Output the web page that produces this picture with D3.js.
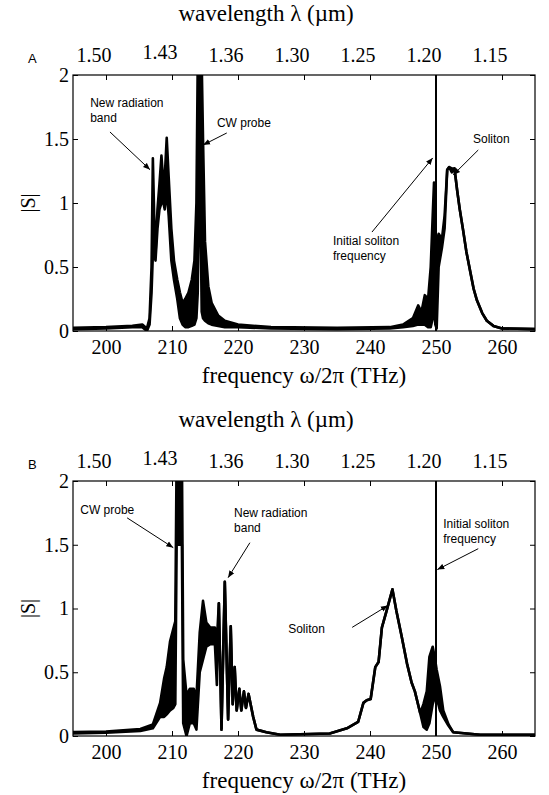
<!DOCTYPE html>
<html>
<head>
<meta charset="utf-8">
<script src="https://cdn.jsdelivr.net/npm/d3@7"></script>
<style>
  body { margin: 0; background: #fff; }
  svg { display: block; }
</style>
</head>
<body>
<div id="chart"></div>
<script>
// ticks shared by both panels
const freqTicks = [200, 210, 220, 230, 240, 250, 260];
const waveLabels = ["1.50", "1.43", "1.36", "1.30", "1.25", "1.20", "1.15"];
const sTicks = [0, 0.5, 1, 1.5, 2];
const initialFreq = 250;

// panel A: spectrum envelope (lower / upper edge of the fast oscillations)
const freqA = [195, 200, 204, 205.5, 206.2, 206.6, 206.9, 207.1, 207.3, 207.5, 207.8, 208.1, 208.4, 208.7, 208.9,
               209.2, 209.5, 209.9, 210.3, 210.8, 211.2, 211.6, 212.0, 212.5, 213.0, 213.4, 213.7, 213.9, 214.2,
               214.5, 214.7, 215.0, 215.5, 216, 217, 218, 220, 225, 235, 243, 245, 246.5, 247.3, 247.8, 248.3,
               248.8, 249.2, 249.5, 249.7, 249.9, 250.1, 250.4, 250.9, 251.3, 251.7, 252.0, 252.4, 252.8, 253.2,
               253.6, 254.1, 254.6, 255.2, 255.7, 256.2, 257, 257.7, 258.7, 260, 265];
const loA = [0.015, 0.02, 0.03, 0.03, 0.0, 0.05, 0.3, 0.6, 0.6, 0.55, 0.8, 0.95, 1.0, 1.0, 0.95,
             1.1, 0.9, 0.55, 0.4, 0.25, 0.1, 0.05, 0.03, 0.03, 0.04, 0.05, 0.1, 0.3, 1.5,
             0.15, 0.1, 0.08, 0.06, 0.05, 0.04, 0.03, 0.03, 0.02, 0.015, 0.02, 0.03, 0.04, 0.05, 0.05, 0.05,
             0.03, 0.03, 0.1, 0.2, 0.05, 0.02, 0.5, 0.65, 0.8, 1.26, 1.28, 1.24, 1.27, 1.1,
             0.95, 0.79, 0.62, 0.46, 0.33, 0.24, 0.14, 0.08, 0.04, 0.02, 0.015];
const hiA = [0.025, 0.03, 0.04, 0.05, 0.02, 0.1, 0.5, 1.35, 0.9, 0.6, 0.95, 1.15, 1.37, 1.15, 1.2,
             1.51, 1.2, 0.8, 0.55, 0.4, 0.3, 0.22, 0.25, 0.3, 0.4, 0.55, 1.0, 2.1, 2.2,
             2.1, 1.5, 0.7, 0.35, 0.22, 0.12, 0.08, 0.05, 0.03, 0.025, 0.03, 0.05, 0.1, 0.2, 0.15, 0.28,
             0.25, 0.5, 0.9, 1.16, 0.6, 0.7, 0.76, 0.72, 0.9, 1.26, 1.28, 1.27, 1.27, 1.1,
             0.95, 0.79, 0.62, 0.46, 0.33, 0.24, 0.14, 0.08, 0.04, 0.02, 0.015];

// panel B
const freqB = [195, 200, 205.2, 207.1, 208.2, 208.8, 209.2, 209.7, 210.2, 210.5, 210.7, 211.5, 211.7, 212.2,
               212.7, 213.3, 213.7, 214.2, 214.7, 215.2, 215.8, 216.5, 216.8, 217.1, 217.5, 218.0, 218.5,
               218.9, 219.2, 219.5, 219.8, 220.2, 220.5, 220.9, 221.2, 221.6, 222.3, 222.8, 224.3, 226.4,
               233.9, 236.5, 238.2, 239.0, 239.5, 240.1, 240.8, 241.3, 241.8, 242.5, 243.4, 244.0, 244.8,
               245.6, 246.3, 246.8, 247.6, 248.1, 248.6, 249.0, 249.5, 249.8, 250.1, 250.6, 251.1, 251.9,
               252.6, 256.7, 265];
const loB = [0.02, 0.025, 0.04, 0.06, 0.15, 0.15, 0.17, 0.2, 0.22, 0.25, 1.5, 1.5, 0.1, 0.0,
             0.1, 0.1, 0.05, 0.5, 0.6, 0.7, 0.72, 0.72, 0.4, 1.04, 0.05, 1.21, 0.13,
             0.86, 0.25, 0.54, 0.2, 0.37, 0.2, 0.35, 0.22, 0.33, 0.15, 0.05, 0.03, 0.01,
             0.02, 0.06, 0.11, 0.26, 0.28, 0.29, 0.54, 0.58, 0.85, 0.98, 1.15, 0.98, 0.78,
             0.57, 0.42, 0.35, 0.18, 0.07, 0.05, 0.1, 0.25, 0.3, 0.3, 0.2, 0.15, 0.08,
             0.03, 0.01, 0.01];
const hiB = [0.03, 0.035, 0.055, 0.09, 0.26, 0.45, 0.54, 0.74, 0.84, 0.9, 2.2, 2.2, 0.6, 0.32,
             0.37, 0.37, 0.3, 0.81, 1.06, 0.89, 0.85, 0.85, 0.75, 1.04, 0.05, 1.21, 0.13,
             0.86, 0.25, 0.54, 0.2, 0.37, 0.2, 0.35, 0.22, 0.33, 0.15, 0.05, 0.03, 0.01,
             0.02, 0.06, 0.11, 0.26, 0.28, 0.29, 0.54, 0.58, 0.85, 0.98, 1.15, 0.98, 0.78,
             0.57, 0.42, 0.35, 0.18, 0.25, 0.35, 0.62, 0.70, 0.62, 0.52, 0.39, 0.2, 0.09,
             0.03, 0.01, 0.01];

// annotations in data units: text anchor, then arrow tail -> head
const notesA = [
  {lines: ["New radiation", "band"], tx: 197.6, ty: 1.75, x1: 200.6, y1: 1.555, x2: 206.67, y2: 1.26},
  {lines: ["CW probe"], tx: 216.8, ty: 1.594, x1: 218.3, y1: 1.547, x2: 214.7, y2: 1.453},
  {lines: ["Soliton"], tx: 255.6, ty: 1.469, x1: 256.4, y1: 1.414, x2: 252.6, y2: 1.219},
  {lines: ["Initial soliton", "frequency"], tx: 234.4, ty: 0.672, x1: 240.3, y1: 0.773, x2: 249.5, y2: 1.352}
];
const notesB = [
  {lines: ["CW probe"], tx: 196.1, ty: 1.742, x1: 203.2, y1: 1.711, x2: 210.2, y2: 1.477},
  {lines: ["New radiation", "band"], tx: 219.4, ty: 1.719, x1: 221.8, y1: 1.516, x2: 218.5, y2: 1.242},
  {lines: ["Soliton"], tx: 227.6, ty: 0.805, x1: 237.3, y1: 0.852, x2: 242.7, y2: 1.023},
  {lines: ["Initial soliton", "frequency"], tx: 251.1, ty: 1.633, x1: 256.4, y1: 1.469, x2: 250.2, y2: 1.305}
];

const W = 549, H = 795;
const serif = "'Liberation Serif', 'Times New Roman', serif";
const sans = "'Liberation Sans', Arial, sans-serif";

const svg = d3.select("#chart").append("svg")
    .attr("width", W)
    .attr("height", H);

svg.append("defs").append("marker")
    .attr("id", "head")
    .attr("viewBox", "0 0 10 10")
    .attr("refX", 10).attr("refY", 5)
    .attr("markerWidth", 7).attr("markerHeight", 7)
    .attr("markerUnits", "userSpaceOnUse")
    .attr("orient", "auto")
  .append("path")
    .attr("d", "M0,1 L10,5 L0,9 Z")
    .attr("fill", "black");

const x = d3.scaleLinear().domain([195, 265]).range([73, 535]);

function drawPanel(id, letter, top, bottom, freq, lo, hi, notes) {
    const y = d3.scaleLinear().domain([0, 2]).range([bottom, top]);
    const g = svg.append("g");

    g.append("clipPath").attr("id", "clip" + id)
      .append("rect")
        .attr("x", x.range()[0]).attr("y", top)
        .attr("width", x.range()[1] - x.range()[0]).attr("height", bottom - top);

    const pts = freq.map((f, i) => ({f: f, lo: lo[i], hi: hi[i]}));
    const plot = g.append("g").attr("clip-path", `url(#clip${id})`);

    plot.append("path")
        .datum(pts)
        .attr("d", d3.area().x(d => x(d.f)).y0(d => y(d.lo)).y1(d => y(d.hi)))
        .attr("fill", "black");

    [d => d.hi, d => d.lo].forEach(acc => {
        plot.append("path")
            .datum(pts)
            .attr("d", d3.line().x(d => x(d.f)).y(d => y(acc(d))))
            .attr("fill", "none")
            .attr("stroke", "black")
            .attr("stroke-width", 2.6)
            .attr("stroke-linejoin", "round");
    });

    // initial soliton frequency marker
    g.append("line")
        .attr("x1", x(initialFreq)).attr("x2", x(initialFreq))
        .attr("y1", y(0)).attr("y2", y(2))
        .attr("stroke", "black")
        .attr("stroke-width", 2);

    // axes, ticks pointing inward
    const bottomAxis = g.append("g")
        .attr("transform", `translate(0,${bottom})`)
        .call(d3.axisBottom(x).tickValues(freqTicks).tickSizeInner(-5).tickSizeOuter(0).tickPadding(9));
    const topAxis = g.append("g")
        .attr("transform", `translate(0,${top})`)
        .call(d3.axisTop(x).tickValues(freqTicks).tickSizeInner(-5).tickSizeOuter(0).tickFormat(""));
    const leftAxis = g.append("g")
        .attr("transform", `translate(${x.range()[0]},0)`)
        .call(d3.axisLeft(y).tickValues(sTicks).tickSizeInner(-5).tickSizeOuter(0).tickPadding(4)
              .tickFormat(d => String(d)));
    const rightAxis = g.append("g")
        .attr("transform", `translate(${x.range()[1]},0)`)
        .call(d3.axisRight(y).tickValues(sTicks).tickSizeInner(-5).tickSizeOuter(0).tickFormat(""));

    [bottomAxis, topAxis, leftAxis, rightAxis].forEach(a => {
        a.select(".domain").remove();
        a.selectAll("text").attr("font-family", serif).attr("font-size", 20).attr("fill", "black");
        a.selectAll("line").attr("stroke", "black");
    });

    g.append("rect")
        .attr("x", x.range()[0]).attr("y", top)
        .attr("width", x.range()[1] - x.range()[0]).attr("height", bottom - top)
        .attr("fill", "none")
        .attr("stroke", "black")
        .attr("stroke-width", 1.2);

    // wavelength labels over the top ticks
    g.selectAll(".wl")
        .data(freqTicks)
        .enter().append("text")
        .attr("x", d => x(d) - 12)
        .attr("y", (d, i) => top - (i === 1 ? 16 : 13))
        .attr("text-anchor", "middle")
        .attr("font-family", serif)
        .attr("font-size", 20)
        .text((d, i) => waveLabels[i]);

    g.append("text")
        .attr("x", 266).attr("y", top - 54)
        .attr("text-anchor", "middle")
        .attr("font-family", serif)
        .attr("font-size", 23)
        .text("wavelength λ (µm)");

    g.append("text")
        .attr("x", (x.range()[0] + x.range()[1]) / 2).attr("y", bottom + 52)
        .attr("text-anchor", "middle")
        .attr("font-family", serif)
        .attr("font-size", 23)
        .text("frequency ω/2π (THz)");

    g.append("text")
        .attr("transform", `translate(35,${(top + bottom) / 2}) rotate(-90)`)
        .attr("text-anchor", "middle")
        .attr("font-family", serif)
        .attr("font-size", 20)
        .text("|S|");

    g.append("text")
        .attr("x", 28).attr("y", top - 12)
        .attr("font-family", sans)
        .attr("font-size", 13)
        .text(letter);

    notes.forEach(n => {
        const t = g.append("text")
            .attr("x", x(n.tx)).attr("y", y(n.ty))
            .attr("font-family", sans)
            .attr("font-size", 12);
        n.lines.forEach((s, i) => {
            t.append("tspan")
                .attr("x", x(n.tx))
                .attr("dy", i === 0 ? 0 : 15)
                .text(s);
        });
        g.append("line")
            .attr("x1", x(n.x1)).attr("y1", y(n.y1))
            .attr("x2", x(n.x2)).attr("y2", y(n.y2))
            .attr("stroke", "black")
            .attr("stroke-width", 1)
            .attr("marker-end", "url(#head)");
    });
}

drawPanel("A", "A", 75, 331, freqA, loA, hiA, notesA);
drawPanel("B", "B", 481, 736, freqB, loB, hiB, notesB);
</script>
</body>
</html>
